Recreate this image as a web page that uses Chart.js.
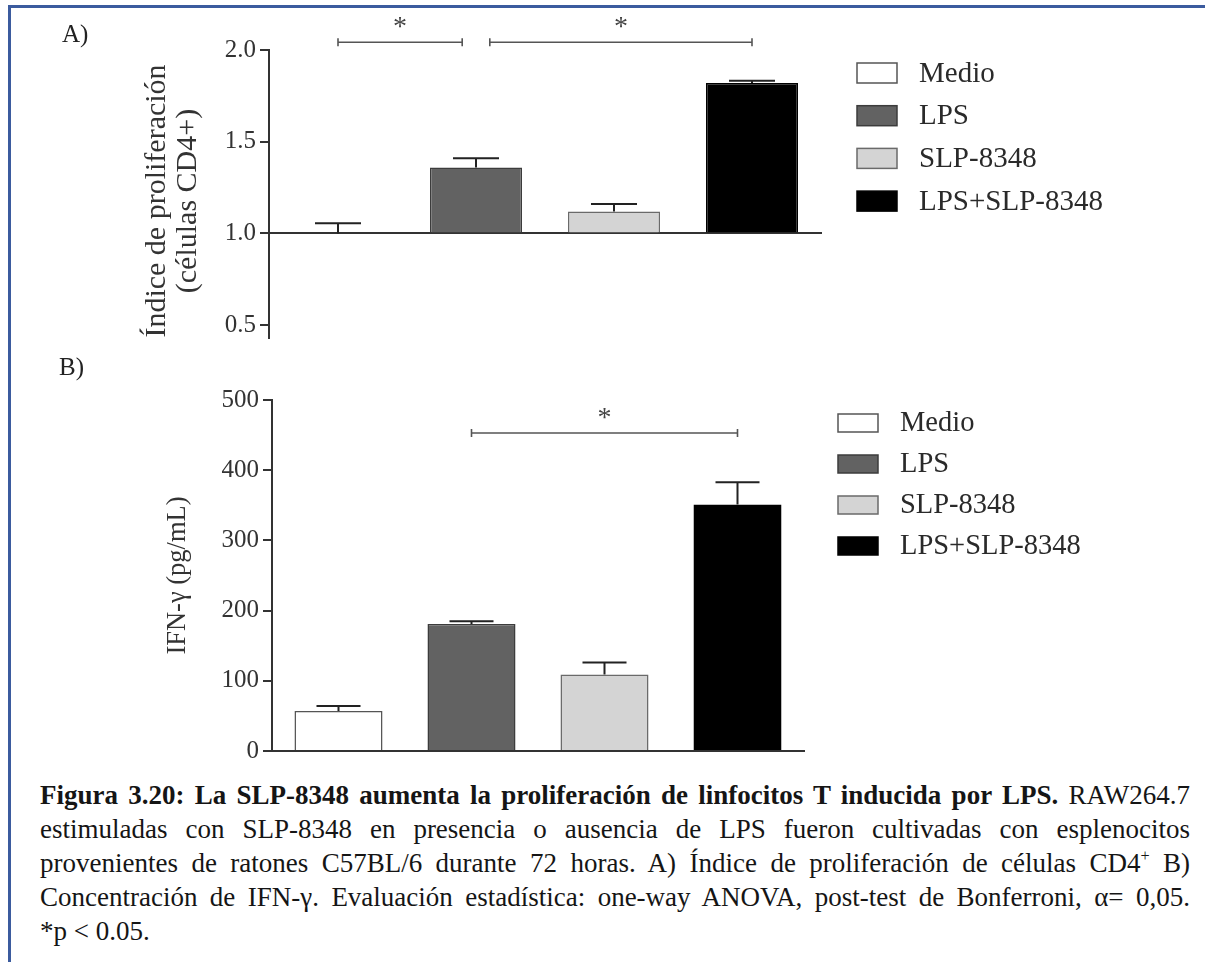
<!DOCTYPE html>
<html lang="es">
<head>
<meta charset="utf-8">
<title>Figura 3.20</title>
<script src="https://cdn.jsdelivr.net/npm/chart.js@4.4.1/dist/chart.umd.min.js"></script>
<style>
  html, body { margin: 0; padding: 0; background: #fff; }
  #page { position: relative; width: 1205px; height: 962px; overflow: hidden; background: #fff;
          font-family: "Liberation Serif", "Times New Roman", serif; color: #222; }
  #frame { position: absolute; left: 8px; top: 5px; right: -4px; bottom: -4px;
           border-top: 3px solid #3b5b9e; border-left: 3px solid #3b5b9e; }
  canvas { position: absolute; left: 0; }
  #chartA { top: 0; }
  #chartB { top: 345px; }
  .tag { position: absolute; font-size: 25px; line-height: 25px; color: #222; }
  #caption { position: absolute; left: 40px; top: 778px; width: 1150px; font-size: 27px; line-height: 34px; color: #151515; }
  #caption div { text-align: justify; text-align-last: justify; white-space: nowrap; }
  #caption div.last { text-align-last: left; }
  #caption sup { font-size: 0.6em; line-height: 0; vertical-align: 0.7em; }
</style>
</head>
<body>
<div id="page">
  <div id="frame"></div>
  <canvas id="chartA" width="1205" height="365"></canvas>
  <canvas id="chartB" width="1205" height="425"></canvas>
  <div class="tag" style="left:62px; top:21px;">A)</div>
  <div class="tag" style="left:59px; top:354px;">B)</div>
  <div id="caption">
    <div><b>Figura 3.20: La SLP-8348 aumenta la proliferación de linfocitos T inducida por LPS.</b> RAW264.7</div>
    <div>estimuladas con SLP-8348 en presencia o ausencia de LPS fueron cultivadas con esplenocitos</div>
    <div>provenientes de ratones C57BL/6 durante 72 horas. A) Índice de proliferación de células CD4<sup>+</sup> B)</div>
    <div>Concentración de IFN-γ. Evaluación estadística: one-way ANOVA, post-test de Bonferroni, α= 0,05.</div>
    <div class="last">*p &lt; 0.05.</div>
  </div>
</div>
<script>
// groups and bar colours
const groups = ['Medio', 'LPS', 'SLP-8348', 'LPS+SLP-8348'];
const fillColors = ['#ffffff', '#626262', '#d4d4d4', '#000000'];
const edgeColors = ['#555555', '#3c3c3c', '#6a6a6a', '#000000'];

// A) proliferation index of CD4+ cells (mean, SEM)
const prolifMean = [1.00, 1.36, 1.12, 1.82];
const prolifSem = [0.055, 0.05, 0.04, 0.012];
const prolifTicks = [0.5, 1.0, 1.5, 2.0];
const prolifPairs = [[0, 1], [1, 3]];
const prolifPairLevel = 2.042;

// B) IFN-gamma concentration, pg/mL (mean, SEM)
const ifnMean = [57, 181, 109, 351];
const ifnSem = [7, 4, 17, 32];
const ifnTicks = [0, 100, 200, 300, 400, 500];
const ifnPairs = [[1, 3]];
const ifnPairLevel = 453;

const SERIF = "'Liberation Serif', 'Times New Roman', serif";
const INK = '#333333';
Chart.defaults.font.family = SERIF;

// error bars, significance brackets, rotated y title and legend
function statsPlugin(mean, sem, pairs, level, title, legend) {
  return {
    id: 'stats',
    afterDatasetsDraw(chart) {
      const ctx = chart.ctx;
      const y = chart.scales.y;
      const bars = chart.getDatasetMeta(0).data;
      ctx.save();
      ctx.strokeStyle = '#222';
      ctx.lineWidth = 2;
      bars.forEach((bar, i) => {
        const base = y.getPixelForValue(mean[i]);
        const top = y.getPixelForValue(mean[i] + sem[i]);
        const half = bar.width / 4;
        ctx.beginPath();
        ctx.moveTo(bar.x, base);
        ctx.lineTo(bar.x, top);
        ctx.moveTo(bar.x - half, top);
        ctx.lineTo(bar.x + half, top);
        ctx.stroke();
      });
      ctx.restore();
    },
    afterDraw(chart) {
      const ctx = chart.ctx;
      const x = chart.scales.x, y = chart.scales.y;
      const area = chart.chartArea;
      ctx.save();

      // brackets: shared end points are pulled in a little
      const starts = pairs.map(p => p[0]);
      const ends = pairs.map(p => p[1]);
      const by = y.getPixelForValue(level);
      ctx.strokeStyle = '#555';
      ctx.lineWidth = 1.6;
      pairs.forEach(([a, b]) => {
        const a2 = ends.includes(a) ? a + 0.1 : a;
        const b2 = starts.includes(b) ? b - 0.1 : b;
        const x1 = x.getPixelForValue(a2), x2 = x.getPixelForValue(b2);
        ctx.beginPath();
        ctx.moveTo(x1, by); ctx.lineTo(x2, by);
        ctx.moveTo(x1, by - 4); ctx.lineTo(x1, by + 4);
        ctx.moveTo(x2, by - 4); ctx.lineTo(x2, by + 4);
        ctx.stroke();
        ctx.fillStyle = '#444';
        ctx.font = '28px ' + SERIF;
        ctx.textAlign = 'center';
        ctx.textBaseline = 'alphabetic';
        ctx.fillText('*', (x1 + x2) / 2, by - 7);
      });

      // y axis title
      ctx.save();
      ctx.translate(area.left + title.dx, (area.top + area.bottom) / 2 + title.dy);
      ctx.rotate(-Math.PI / 2);
      ctx.font = title.size + 'px ' + SERIF;
      ctx.fillStyle = INK;
      ctx.textAlign = 'center';
      ctx.textBaseline = 'middle';
      title.lines.forEach((t, i) => {
        ctx.fillText(t, 0, (i - (title.lines.length - 1) / 2) * title.gap);
      });
      ctx.restore();

      // legend
      ctx.font = legend.size + 'px ' + SERIF;
      ctx.textAlign = 'left';
      ctx.textBaseline = 'middle';
      ctx.lineWidth = 1.5;
      groups.forEach((g, i) => {
        const cy = legend.top + i * legend.gap;
        const bx = area.right + legend.dx;
        ctx.fillStyle = fillColors[i];
        ctx.fillRect(bx, cy - legend.boxH / 2, 40, legend.boxH);
        ctx.strokeStyle = edgeColors[i];
        ctx.strokeRect(bx, cy - legend.boxH / 2, 40, legend.boxH);
        ctx.fillStyle = '#2a2a2a';
        ctx.fillText(g, bx + 62, cy + 1);
      });
      ctx.restore();
    }
  };
}

function yAxis(min, max, tickValues, fmt, width) {
  return {
    min: min,
    max: max,
    afterBuildTicks: s => { s.ticks = tickValues.map(v => ({ value: v })); },
    afterFit: s => { s.width = width; },
    ticks: { callback: fmt, color: INK, padding: 4, font: { size: 25, family: SERIF } },
    grid: { display: true, drawOnChartArea: false, drawTicks: true, tickLength: 9, color: INK, lineWidth: 2 },
    border: { display: true, color: INK, width: 2 }
  };
}

function xAxis(position) {
  return {
    position: position,
    offset: true,
    afterFit: s => { s.height = 0; },
    ticks: { display: false },
    grid: { display: false, drawTicks: false },
    border: { display: true, color: INK, width: 2 }
  };
}

const commonPlugins = { legend: { display: false }, tooltip: { enabled: false } };

// A) proliferation, bars rise from an index of 1.0
new Chart(document.getElementById('chartA'), {
  type: 'bar',
  data: {
    labels: groups,
    datasets: [{
      data: prolifMean,
      base: 1,
      backgroundColor: fillColors,
      borderColor: edgeColors,
      borderWidth: 1.5,
      categoryPercentage: 1,
      barPercentage: 0.667
    }]
  },
  options: {
    responsive: false,
    animation: false,
    layout: { padding: { top: 50, bottom: 27, left: 0, right: 384 } },
    scales: {
      x: xAxis({ y: 1 }),
      y: yAxis(0.43, 2.0, prolifTicks, v => v.toFixed(1), 269)
    },
    plugins: commonPlugins
  },
  plugins: [statsPlugin(prolifMean, prolifSem, prolifPairs, prolifPairLevel,
    { lines: ['Índice de proliferación', '(células CD4+)'], size: 30, gap: 31, dx: -96, dy: 7 },
    { top: 73, gap: 42.7, dx: 36, boxH: 20, size: 29 })]
});

// B) IFN-gamma
new Chart(document.getElementById('chartB'), {
  type: 'bar',
  data: {
    labels: groups,
    datasets: [{
      data: ifnMean,
      backgroundColor: fillColors,
      borderColor: edgeColors,
      borderWidth: 1.5,
      categoryPercentage: 1,
      barPercentage: 0.662
    }]
  },
  options: {
    responsive: false,
    animation: false,
    layout: { padding: { top: 55, bottom: 15, left: 0, right: 401 } },
    scales: {
      x: xAxis('bottom'),
      y: yAxis(0, 500, ifnTicks, v => String(v), 272)
    },
    plugins: commonPlugins
  },
  plugins: [statsPlugin(ifnMean, ifnSem, ifnPairs, ifnPairLevel,
    { lines: ['IFN-γ (pg/mL)'], size: 26.5, gap: 0, dx: -94, dy: 0 },
    { top: 78, gap: 41, dx: 34, boxH: 18, size: 28.5 })]
});
</script>
</body>
</html>
